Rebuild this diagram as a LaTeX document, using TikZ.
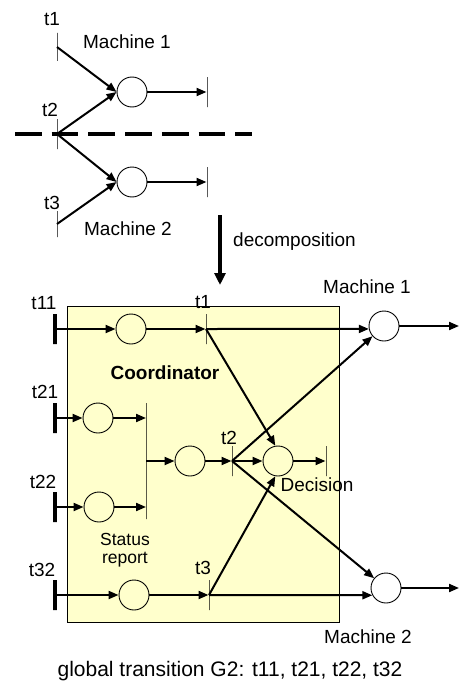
\documentclass[tikz,border=0pt]{standalone}
\usepackage{fontspec}
\setmainfont{Liberation Sans}
\usetikzlibrary{arrows.meta}
\definecolor{coordfill}{HTML}{FFFFCC}
\begin{document}
\begin{tikzpicture}[x=1pt,y=-1pt,
  every node/.style={font=\fontsize{19}{22}\selectfont},
  place/.style={circle,draw,line width=0.9pt,minimum size=30pt,inner sep=0pt},
  tbar/.style={rectangle,draw,line width=1pt,minimum width=0pt,minimum height=#1,inner sep=0pt},
  tbar/.default=30pt,
  tthick/.style={rectangle,draw,line width=4pt,minimum width=0pt,minimum height=#1,inner sep=0pt},
  tthick/.default=30pt,
  arc/.style={line width=2pt,-{Triangle[length=10pt,width=8pt]}},
  lbl/.style={inner sep=0pt}
]
\useasboundingbox (0,0) rectangle (459,685);

% ---------- top part ----------
\draw[line width=3.5pt,dash pattern=on 26.7pt off 10pt] (15,134) -- (252,134);
\node[tbar=28pt] (ta1) at (57,47) {};
\node[tbar=30pt] (ta2) at (57,134) {};
\node[tbar=26pt] (ta3) at (57,224) {};
\node[place] (P1) at (132,92) {};
\node[place] (P2) at (132,182) {};
\node[tbar] (b1) at (207,92) {};
\node[tbar] (b2) at (207,182) {};
\draw[arc] (ta1.center) -- (P1.west);
\draw[arc] (ta2.center) -- (P1.west);
\draw[arc] (ta2.center) -- (P2.west);
\draw[arc] (ta3.center) -- (P2.west);
\draw[arc] (P1) -- (b1);
\draw[arc] (P2) -- (b2);
\node[lbl] (lta1) at (52,19) {t1};
\node[lbl] (lta2) at (50,110) {t2};
\node[lbl] (lta3) at (52,203) {t3};
\node[lbl] (lm1a) at (127,42) {Machine 1};
\node[lbl] (lm2a) at (128,229) {Machine 2};

% ---------- decomposition ----------
\coordinate (dec1) at (220,215);
\coordinate (dec2) at (220,285);
\draw[line width=3.5pt,-{Triangle[length=12pt,width=11pt]}] (dec1) -- (dec2);
\node[lbl,anchor=west] (ldec) at (233,242) {decomposition};

% ---------- coordinator ----------
\draw[fill=coordfill,line width=1pt] (67,306) rectangle (339,622);
\node[lbl,font=\fontsize{19}{22}\selectfont\bfseries] (lcoord) at (165,373) {Coordinator};

\node[tthick] (t11) at (55,329) {};
\node[place] (P11) at (131,329) {};
\node[tbar] (t1) at (206,329) {};
\node[tthick] (t21) at (55,418) {};
\node[place] (P21) at (98,418) {};
\node[tthick] (t22) at (55,507) {};
\node[place] (P22) at (99,507) {};
\node[tbar=116pt] (sr) at (146,461) {};
\node[place] (Pm) at (190,461) {};
\node[tbar] (t2) at (232,461) {};
\node[place] (D) at (278,461) {};
\node[tbar] (td) at (326,461) {};
\node[tthick] (t32) at (55,595) {};
\node[place] (P32) at (134,595) {};
\node[tbar] (t3) at (209,595) {};
\node[place] (M1) at (384,326) {};
\node[place] (M2) at (386,588) {};
\coordinate (m1out) at (459,326);
\coordinate (m2out) at (459,588);

\draw[arc] (t11.center) -- (P11);
\draw[arc] (P11) -- (t1);
\draw[arc] (t1.center) -- (M1.191.5);
\draw[arc] (t1.center) -- (D.100);
\draw[arc] (M1) -- (m1out);
\draw[arc] (t21.center) -- (P21);
\draw[arc] (P21) -- (P21 -| sr);
\draw[arc] (t22.center) -- (P22);
\draw[arc] (P22) -- (P22 -| sr);
\draw[arc] (sr.center) -- (Pm);
\draw[arc] (Pm) -- (t2);
\draw[arc] (t2.center) -- (D);
\draw[arc] (D) -- (td);
\draw[arc] (t2.center) -- (M1);
\draw[arc] (t2.center) -- (M2);
\draw[arc] (t32.center) -- (P32);
\draw[arc] (P32) -- (t3);
\draw[arc] (t3.center) -- (D.-100);
\draw[arc] (t3.center) -- (M2.208);
\draw[arc] (M2) -- (m2out);

\node[lbl] (lt11) at (44,303) {t11};
\node[lbl] (lt1) at (203,302) {t1};
\node[lbl] (lt21) at (45,392) {t21};
\node[lbl] (lt22) at (43,482) {t22};
\node[lbl] (lt2) at (229,438) {t2};
\node[lbl] (lt32) at (42,570) {t32};
\node[lbl] (lt3) at (203,568) {t3};
\node[lbl] (ldecis) at (317,485) {Decision};
\node[lbl,align=center,font=\fontsize{17.5}{18}\selectfont] (lstat) at (125,550) {Status\\report};
\node[lbl] (lm1) at (367,287) {Machine 1};
\node[lbl] (lm2) at (368,637) {Machine 2};
\node[lbl,font=\fontsize{21}{24}\selectfont] (lglob) at (230,671) {global transition G2: t11, t21, t22, t32};
\end{tikzpicture}
\end{document}
